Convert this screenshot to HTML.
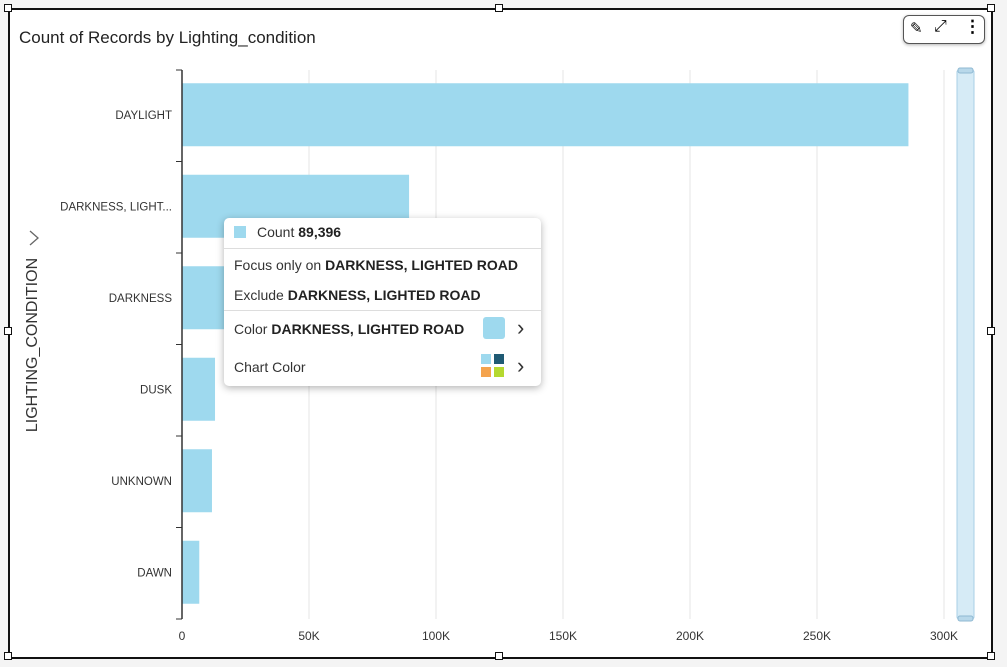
<!DOCTYPE html>
<html><head><meta charset="utf-8"><style>
body{margin:0;width:1007px;height:667px;background:#f4f4f4;font-family:"Liberation Sans",sans-serif;overflow:hidden;position:relative}
#frame{position:absolute;left:8px;top:8px;width:981px;height:647px;border:2px solid #111;background:#fff;box-sizing:content-box}
.h{position:absolute;width:6px;height:6px;background:#fff;border:1px solid #111}
#title{position:absolute;left:19px;top:28px;font-size:17px;color:#222}
#tools{position:absolute;left:903px;top:15px;width:80px;height:27px;border:1px solid #555;border-radius:6px;background:#fff;box-shadow:0 1px 3px rgba(0,0,0,.3)}
#tip{position:absolute;left:224px;top:218px;width:317px;height:168px;background:#fff;border-radius:5px;box-shadow:0 2px 8px rgba(0,0,0,.3);font-size:14px;color:#333}
#tip div{position:absolute;left:10px}
#tip b{color:#222}
.sep{position:absolute;left:0!important;width:317px;height:1px;background:#ddd}
.chev{position:absolute;left:293px;font-size:22px;color:#333;line-height:22px}
</style></head><body>
<div id="frame"></div>
<div class="h" style="left:4px;top:4px"></div>
<div class="h" style="left:495px;top:4px"></div>
<div class="h" style="left:987px;top:4px"></div>
<div class="h" style="left:4px;top:327px"></div>
<div class="h" style="left:987px;top:327px"></div>
<div class="h" style="left:4px;top:652px"></div>
<div class="h" style="left:495px;top:652px"></div>
<div class="h" style="left:987px;top:652px"></div>
<div id="title">Count of Records by Lighting_condition</div>
<div id="tools">
<span style="position:absolute;left:6px;top:3px;font-size:15px">✎</span>
<span style="position:absolute;left:30px;top:2px;font-size:16px">⤢</span>
<span style="position:absolute;left:60px;top:1px;font-size:17px;font-weight:bold">⋮</span>
</div>
<svg id="chart" width="1007" height="667" style="position:absolute;left:0;top:0"></svg>
<div id="tip">
<span style="position:absolute;left:10px;top:8px;width:12px;height:12px;background:#9ed9ee"></span>
<div style="left:33px;top:6px">Count <b>89,396</b></div>
<span class="sep" style="top:30px"></span>
<div style="top:39px">Focus only on <b>DARKNESS, LIGHTED ROAD</b></div>
<div style="top:69px">Exclude <b>DARKNESS, LIGHTED ROAD</b></div>
<span class="sep" style="top:92px"></span>
<div style="top:103px">Color <b>DARKNESS, LIGHTED ROAD</b></div>
<span style="position:absolute;left:259px;top:99px;width:22px;height:22px;border-radius:3px;background:#9ed9ee"></span>
<span class="chev" style="top:99px">›</span>
<div style="top:141px">Chart Color</div>
<span style="position:absolute;left:257px;top:136px;width:10px;height:10px;background:#9ed9ee"></span>
<span style="position:absolute;left:270px;top:136px;width:10px;height:10px;background:#1f5a74"></span>
<span style="position:absolute;left:257px;top:149px;width:10px;height:10px;background:#f4a34d"></span>
<span style="position:absolute;left:270px;top:149px;width:10px;height:10px;background:#b5d930"></span>
<span class="chev" style="top:137px">›</span>
</div>
<script>
const categories=["DAYLIGHT","DARKNESS, LIGHT...","DARKNESS","DUSK","UNKNOWN","DAWN"];
const counts=[286000,89396,25000,13000,11800,6800];
const ticks=[0,50000,100000,150000,200000,250000,300000];
const tickLabels=["0","50K","100K","150K","200K","250K","300K"];
const svg=document.getElementById('chart');const NS="http://www.w3.org/2000/svg";
const x0=182,pxPer=254/100000,yTop=70,yBot=619;
const band=(yBot-yTop)/categories.length;
const X=v=>x0+v*pxPer;
function el(t,a,p){const e=document.createElementNS(NS,t);for(const k in a)e.setAttribute(k,a[k]);(p||svg).appendChild(e);return e;}
ticks.forEach((t,i)=>{
 if(i>0){const g=el('line',{x1:X(t),x2:X(t),y1:yTop,y2:yBot,stroke:'#e4e4e4'});
 
 }
 const l=el('text',{x:X(t),y:640,'text-anchor':'middle','font-size':12,fill:'#333','font-family':'Liberation Sans'});l.textContent=tickLabels[i];
 
 
});
categories.forEach((c,i)=>{
 const yc=yTop+band*(i+0.5);
 const b=el('rect',{x:x0,y:yc-32.5,width:X(counts[i])-x0,height:63,fill:'#9ed9ee'});
 
 
 const t=el('text',{x:172,y:yc+3,'text-anchor':'end','font-size':11.5,fill:'#333','font-family':'Liberation Sans'});t.textContent=c;
 
 
});
for(let i=0;i<=categories.length;i++){el('line',{x1:176,x2:182,y1:yTop+band*i,y2:yTop+band*i,stroke:'#333'});}
const ax=el('line',{x1:x0,x2:x0,y1:yTop,y2:yBot,stroke:'#333','stroke-width':1.5});


const yt=el('text',{transform:'translate(37,345) rotate(-90)','text-anchor':'middle','font-size':16,fill:'#333','font-family':'Liberation Sans'});yt.textContent='LIGHTING_CONDITION';


const ch=el('path',{d:'M30 231 L38 238 L30 245',fill:'none',stroke:'#666','stroke-width':1.3});


const sb=el('rect',{x:957,y:70,width:17,height:549,fill:'#d6ebf6',stroke:'#a8cfe6',rx:2});


el('rect',{x:958,y:68,width:15,height:5,rx:2,fill:'#b8d8ea',stroke:'#8fb9d2'});
el('rect',{x:958,y:616,width:15,height:5,rx:2,fill:'#b8d8ea',stroke:'#8fb9d2'});
</script>
</body></html>
